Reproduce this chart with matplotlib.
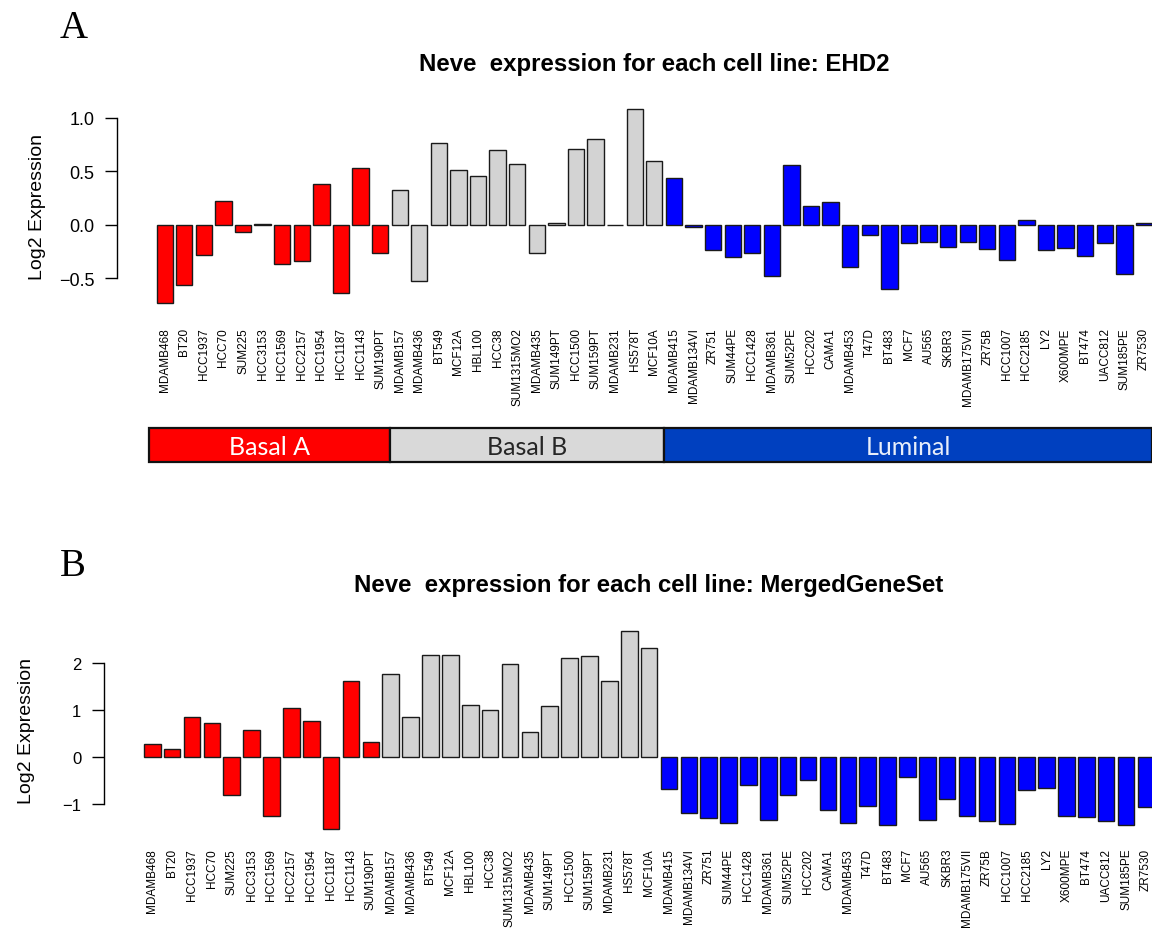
import numpy as np
import matplotlib
matplotlib.use("Agg")
import matplotlib.pyplot as plt
from matplotlib.patches import Rectangle

plt.rcParams['font.family'] = ['Liberation Sans', 'DejaVu Sans']

cell_lines = ['MDAMB468', 'BT20', 'HCC1937', 'HCC70', 'SUM225', 'HCC3153',
              'HCC1569', 'HCC2157', 'HCC1954', 'HCC1187', 'HCC1143', 'SUM190PT',
              'MDAMB157', 'MDAMB436', 'BT549', 'MCF12A', 'HBL100', 'HCC38',
              'SUM1315MO2', 'MDAMB435', 'SUM149PT', 'HCC1500', 'SUM159PT',
              'MDAMB231', 'HS578T', 'MCF10A',
              'MDAMB415', 'MDAMB134VI', 'ZR751', 'SUM44PE', 'HCC1428', 'MDAMB361',
              'SUM52PE', 'HCC202', 'CAMA1', 'MDAMB453', 'T47D', 'BT483', 'MCF7',
              'AU565', 'SKBR3', 'MDAMB175VII', 'ZR75B', 'HCC1007', 'HCC2185',
              'LY2', 'X600MPE', 'BT474', 'UACC812', 'SUM185PE', 'ZR7530']

subtypes = ['Basal A', 'Basal B', 'Luminal']
subtype_sizes = [12, 14, 25]
bar_colors = ['#ff0000', '#d3d3d3', '#0000ff']
band_colors = ['#ff0000', '#d9d9d9', '#0040bf']
band_text = ['white', '#262626', '#e8eefa']

ehd2 = [-0.73, -0.56, -0.28, 0.22, -0.07, 0.005, -0.37, -0.34, 0.38, -0.64,
        0.53, -0.27, 0.32, -0.53, 0.76, 0.51, 0.45, 0.70, 0.57, -0.27,
        0.015, 0.71, 0.80, -0.005, 1.08, 0.59, 0.44, -0.02, -0.24, -0.30,
        -0.27, -0.48, 0.56, 0.17, 0.21, -0.40, -0.10, -0.60, -0.17, -0.16,
        -0.21, -0.16, -0.23, -0.33, 0.04, -0.24, -0.22, -0.29, -0.17, -0.46,
        0.015]

merged = [0.29, 0.18, 0.85, 0.74, -0.80, 0.59, -1.25, 1.04, 0.77, -1.52,
          1.62, 0.32, 1.77, 0.85, 2.18, 2.18, 1.12, 1.01, 1.98, 0.53,
          1.09, 2.12, 2.15, 1.62, 2.68, 2.33, -0.67, -1.18, -1.30, -1.39,
          -0.59, -1.33, -0.80, -0.48, -1.13, -1.39, -1.04, -1.45, -0.42, -1.33,
          -0.89, -1.24, -1.35, -1.42, -0.69, -0.66, -1.24, -1.27, -1.35, -1.45,
          -1.06]

yticks_a = [-0.5, 0.0, 0.5, 1.0]
yticks_b = [-1, 0, 1, 2]

# barplot-style layout: width 1, space 0.2
n = len(cell_lines)
lefts = 0.2 + 1.2 * np.arange(n)
centers = lefts + 0.5
colors = np.repeat(bar_colors, subtype_sizes)
xspan = lefts[-1] + 1 - lefts[0]
xlim = (lefts[0] - 0.04 * xspan, lefts[-1] + 1 + 0.04 * xspan)


def expression_panel(ax, values, yticks, ticklabels, title, tick_fs, label_pad,
                     title_y):
    ax.bar(centers, values, width=1.0, color=colors, edgecolor='#1a1a1a',
           linewidth=1.0)
    lo, hi = min(min(values), 0), max(max(values), 0)
    pad = 0.04 * (hi - lo)
    ax.set_ylim(lo - pad, hi + pad)
    ax.set_xlim(*xlim)
    for s in ['top', 'right', 'bottom']:
        ax.spines[s].set_visible(False)
    ax.spines['left'].set_bounds(yticks[0], yticks[-1])
    ax.spines['left'].set_linewidth(1.0)
    ax.set_yticks(yticks)
    ax.set_yticklabels(ticklabels, fontsize=tick_fs)
    ax.tick_params(axis='y', length=9, width=1.0, pad=7)
    ax.set_xticks(centers)
    ax.set_xticklabels(cell_lines, rotation=90, fontsize=8.5, va='top')
    ax.tick_params(axis='x', length=0, pad=label_pad)
    ax.set_ylabel('Log2 Expression', fontsize=14)
    ax.set_title(title, fontsize=17.3, fontweight='bold', y=title_y, pad=0)


fig = plt.figure(figsize=(11.52, 9.37), dpi=100)

ax_a = fig.add_axes([0.1013, 0.6676, 0.9334, 0.2232])
expression_panel(ax_a, ehd2, yticks_a, ['\u22120.5', '0.0', '0.5', '1.0'],
                 'Neve  expression for each cell line: EHD2', 13, 12, 1.152)
ax_a.yaxis.set_label_coords(-0.066, 0.5)

ax_b = fig.add_axes([0.0899, 0.1060, 0.9471, 0.2276])
expression_panel(ax_b, merged, yticks_b, ['\u22121', '0', '1', '2'],
                 'Neve  expression for each cell line: MergedGeneSet', 12, 8,
                 1.154)
ax_b.yaxis.set_label_coords(-0.063, 0.5)

# subtype band under panel A
ax_band = fig.add_axes([0.1013, 1 - 463 / 937, 0.9334, 34 / 937])
ax_band.set_xlim(*xlim)
ax_band.set_ylim(0, 1)
ax_band.axis('off')
edges = np.concatenate([[lefts[0] - 0.45],
                        lefts[np.cumsum(subtype_sizes)[:-1]] - 0.1,
                        [lefts[-1] + 1]])
for i, name in enumerate(subtypes):
    ax_band.add_patch(Rectangle((edges[i], 0), edges[i + 1] - edges[i], 1,
                                facecolor=band_colors[i], edgecolor='#111111',
                                linewidth=1.6, clip_on=False))
    ax_band.text((edges[i] + edges[i + 1]) / 2, 0.47, name, ha='center',
                 va='center', fontsize=18, family='Lato', color=band_text[i])

fig.text(60 / 1152, 1 - 38 / 937, 'A', fontsize=28, family='Liberation Serif',
         ha='left', va='baseline')
fig.text(60 / 1152, 1 - 576 / 937, 'B', fontsize=28, family='Liberation Serif',
         ha='left', va='baseline')

fig.savefig('out.png', dpi=100)
